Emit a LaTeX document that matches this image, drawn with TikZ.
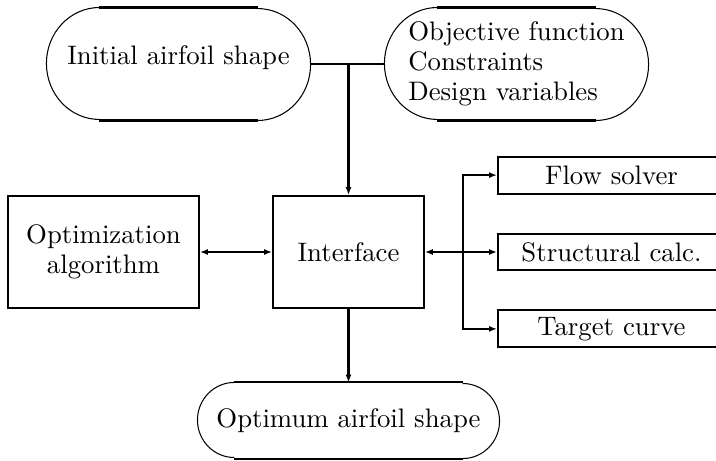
\documentclass[tikz,border=0pt]{standalone}
\usetikzlibrary{arrows.meta,positioning}

% outline of a rounded node: thick straight top and bottom, thin end arcs
\newcommand\capsule[3]{%
  \draw[thick] ([xshift=#2]#1.north west) -- ([xshift=-#2]#1.north east);
  \draw[thick] ([xshift=#2]#1.south west) -- ([xshift=-#2]#1.south east);
  \draw[thin] ([xshift=#2]#1.north west) arc[start angle=90, end angle=270, x radius=#2, y radius=#3];
  \draw[thin] ([xshift=-#2]#1.south east) arc[start angle=-90, end angle=90, x radius=#2, y radius=#3];
}

\begin{document}
\begin{tikzpicture}[
		x=0.385pt, y=-0.385pt,
		node distance=14.6pt,
		every node/.style={font=\fontsize{10.3}{11.6}\selectfont},
		arrow/.style={thick, -{Latex[length=3pt,width=2.3pt]}},
		dblarrow/.style={thick, {Latex[length=3pt,width=2.3pt]}-{Latex[length=3pt,width=2.3pt]}},
		block/.style={draw, thick, minimum width=#1, minimum height=43.1pt, align=center},
		tool/.style={draw, thick, minimum width=87.4pt, minimum height=14.2pt, inner sep=0pt},
		rounded/.style={minimum width=#1, minimum height=43.1pt, align=left},
	]
		\useasboundingbox (0,0) rectangle (716,461);
		\clip (0,0) rectangle (716,461);

		\node (init) [rounded=101.3pt, text depth=6.5pt] at (178.5,64) {Initial airfoil shape};
		\node (obj) [rounded=101.3pt] at (516.5,64) {Objective function\\Constraints\\Design variables};
		\capsule{init}{20.4pt}{21.55pt}
		\capsule{obj}{20.4pt}{21.55pt}

		\node (optalg) [block=73.5pt] at (103.5,252) {Optimization\\algorithm};
		\node (iface) [block=58.1pt] at (348.5,252) {Interface};

		\node (struct) [tool] at (611.5,252) {Structural calc.};
		\node (flow) [tool, above=of struct] {Flow solver};
		\node (target) [tool, below=of struct] {Target curve};

		\node (opt) [rounded=115.9pt, minimum height=28.9pt] at (348.5,420.5) {Optimum airfoil shape};
		\capsule{opt}{14.2pt}{14.45pt}

		\draw[thick] (init.east) -- (obj.west);
		\coordinate (top) at (iface.north |- init.east);
		\draw[arrow] (top) -- (iface.north);
		\draw[dblarrow] (optalg.east) -- (iface.west);
		\draw[dblarrow] (iface.east) -- (struct.west);
		\coordinate (jn) at ([xshift=14.6pt]iface.east);
		\draw[arrow] (jn) |- (flow.west);
		\draw[arrow] (jn) |- (target.west);
		\draw[arrow] (iface.south) -- (opt.north);
	\end{tikzpicture}
\end{document}
